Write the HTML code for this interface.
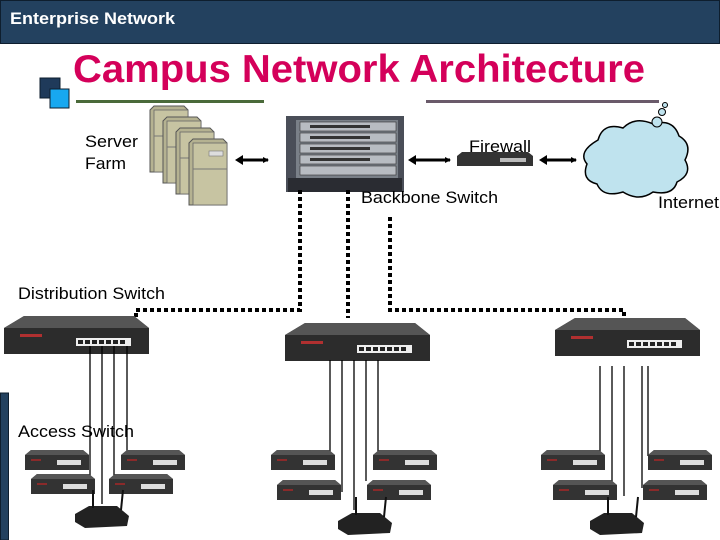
<!DOCTYPE html>
<html><head><meta charset="utf-8"><style>
html,body{margin:0;padding:0;background:#fff;}
svg{display:block;}
text{font-family:"Liberation Sans",Arial,sans-serif;}
</style></head><body>
<svg width="720" height="540" viewBox="0 0 720 540" xmlns="http://www.w3.org/2000/svg">
<defs>
<marker id="ah" markerWidth="6" markerHeight="6" refX="5" refY="3" orient="auto" markerUnits="userSpaceOnUse"><path d="M0,0 L6,3 L0,6 z" fill="#000"/></marker>
<g id="srv">
<polygon points="0,4 4,0 34,0 38,4 38,66 0,66" fill="#b5b291" stroke="#555" stroke-width="1"/>
<rect x="4" y="4" width="34" height="62" fill="#c7c4a2" stroke="#666" stroke-width="0.8"/>
<line x1="4" y1="30" x2="38" y2="30" stroke="#777"/>
<rect x="20" y="12" width="14" height="5" fill="#ddd" stroke="#777" stroke-width="0.6"/>
</g>
<g id="dsw">
<polygon points="0,12 20,0 130,0 145,12 145,38 0,38" fill="#3a3a3a"/>
<polygon points="0,12 20,0 130,0 145,12" fill="#555"/>
<rect x="0" y="12" width="145" height="26" fill="#2c2c2c"/>
<rect x="16" y="18" width="22" height="3" fill="#b03030"/>
<rect x="72" y="22" width="55" height="8" fill="#eee"/>
<g fill="#222"><rect x="74" y="24" width="5" height="4"/><rect x="81" y="24" width="5" height="4"/><rect x="88" y="24" width="5" height="4"/><rect x="95" y="24" width="5" height="4"/><rect x="102" y="24" width="5" height="4"/><rect x="109" y="24" width="5" height="4"/><rect x="116" y="24" width="5" height="4"/></g>
</g>
<g id="asw">
<polygon points="0,5 6,0 58,0 64,5 64,20 0,20" fill="#333"/>
<polygon points="0,5 6,0 58,0 64,5" fill="#555"/>
<rect x="32" y="10" width="24" height="5" fill="#ddd"/>
<rect x="6" y="9" width="10" height="2" fill="#8a2a2a"/>
</g>
<g id="rtr">
<polygon points="0,14 14,6 42,6 54,16 52,26 10,28 0,22" fill="#222"/>
<line x1="18" y1="8" x2="18" y2="-10" stroke="#111" stroke-width="2"/>
<line x1="46" y1="10" x2="48" y2="-10" stroke="#111" stroke-width="2"/>
</g>
</defs>

<rect x="0.5" y="0.5" width="719" height="43" fill="#23415f" stroke="#0e1e2e"/>
<text x="10" y="24" font-size="17" font-weight="bold" fill="#fff" textLength="165" lengthAdjust="spacingAndGlyphs">Enterprise Network</text>

<rect x="40" y="78" width="20" height="20" fill="#1f3a5a" stroke="#0e1e2e"/>
<rect x="50" y="89" width="19" height="19" fill="#18a8f0" stroke="#0e1e2e"/>

<text x="73" y="82" font-size="39" font-weight="bold" fill="#d4005a" textLength="572" lengthAdjust="spacingAndGlyphs">Campus Network Architecture</text>
<rect x="76" y="100" width="188" height="3" fill="#4a6a3a"/>
<rect x="426" y="100" width="233" height="3" fill="#6a5a6a"/>

<use href="#srv" x="150" y="106"/>
<use href="#srv" x="163" y="117"/>
<use href="#srv" x="176" y="128"/>
<use href="#srv" x="189" y="139"/>
<text x="85" y="147" font-size="17" fill="#000" textLength="53" lengthAdjust="spacingAndGlyphs">Server</text>
<text x="85" y="169" font-size="17" fill="#000" textLength="41" lengthAdjust="spacingAndGlyphs">Farm</text>

<g stroke="#000" stroke-width="3" marker-end="url(#ah)">
<line x1="240" y1="160" x2="268" y2="160"/>
<line x1="412" y1="160" x2="450" y2="160"/>
<line x1="544" y1="160" x2="576" y2="160"/>
</g>
<g fill="#000">
<path d="M235,160 l8,-5 v10z"/><path d="M408,160 l8,-5 v10z"/><path d="M539,160 l8,-5 v10z"/>
</g>

<rect x="286" y="116" width="118" height="76" fill="#4a4e58"/>
<rect x="296" y="120" width="102" height="62" fill="#7a8088"/>
<g fill="#b8bcc2" stroke="#333" stroke-width="0.6">
<rect x="300" y="122" width="96" height="9"/><rect x="300" y="133" width="96" height="9"/><rect x="300" y="144" width="96" height="9"/><rect x="300" y="155" width="96" height="9"/><rect x="300" y="166" width="96" height="9"/>
</g>
<g fill="#333"><rect x="310" y="125" width="60" height="3"/><rect x="310" y="136" width="60" height="3"/><rect x="310" y="147" width="60" height="3"/><rect x="310" y="158" width="60" height="3"/></g>
<rect x="288" y="178" width="114" height="14" fill="#2a2c32"/>
<text x="361" y="203" font-size="17" fill="#000" textLength="137" lengthAdjust="spacingAndGlyphs">Backbone Switch</text>

<polygon points="457,156 462,152 528,152 533,156 533,166 457,166" fill="#333"/>
<rect x="500" y="158" width="26" height="4" fill="#bbb"/>
<text x="469" y="152" font-size="17" fill="#000" textLength="62" lengthAdjust="spacingAndGlyphs">Firewall</text>

<path d="M598,140 q5,-18 25,-12 q12,-12 30,-4 q20,-6 26,12 q14,8 6,24 q8,14 -8,22 q-4,14 -24,10 q-14,10 -30,0 q-20,6 -26,-8 q-16,-4 -10,-20 q-10,-12 11,-24z" fill="#bfe3ee" stroke="#000" stroke-width="1.5"/>
<circle cx="657" cy="122" r="5" fill="#bfe3ee" stroke="#000"/>
<circle cx="662" cy="112" r="3.5" fill="#bfe3ee" stroke="#000"/>
<circle cx="665" cy="105" r="2.5" fill="#bfe3ee" stroke="#000"/>
<text x="658" y="208" font-size="17" fill="#000" textLength="61" lengthAdjust="spacingAndGlyphs">Internet</text>

<g fill="none" stroke="#000" stroke-width="4" stroke-dasharray="4,3">
<polyline points="300,190 300,310 136,310 136,332"/>
<polyline points="348,190 348,318"/>
<polyline points="390,217 390,310 624,310 624,344"/>
</g>

<use href="#dsw" x="4" y="316"/>
<use href="#dsw" x="285" y="323"/>
<use href="#dsw" x="555" y="318"/>
<text x="18" y="299" font-size="17" fill="#000" textLength="147" lengthAdjust="spacingAndGlyphs">Distribution Switch</text>

<rect x="0.5" y="393" width="8" height="147" fill="#23415f" stroke="#0e1e2e"/>

<g stroke="#000" stroke-width="1.3">
<line x1="90" y1="346" x2="90" y2="478"/><line x1="102" y1="346" x2="102" y2="504"/><line x1="114" y1="346" x2="114" y2="480"/><line x1="127" y1="346" x2="127" y2="451"/>
<line x1="330" y1="360" x2="330" y2="456"/><line x1="342" y1="360" x2="342" y2="492"/><line x1="354" y1="360" x2="354" y2="510"/><line x1="366" y1="360" x2="366" y2="481"/><line x1="378" y1="360" x2="378" y2="456"/>
<line x1="600" y1="366" x2="600" y2="456"/><line x1="612" y1="366" x2="612" y2="488"/><line x1="624" y1="366" x2="624" y2="496"/><line x1="642" y1="366" x2="642" y2="488"/><line x1="648" y1="366" x2="648" y2="456"/>
</g>

<use href="#asw" x="25" y="450"/><use href="#asw" x="31" y="474"/><use href="#asw" x="121" y="450"/><use href="#asw" x="109" y="474"/>
<use href="#asw" x="271" y="450"/><use href="#asw" x="277" y="480"/><use href="#asw" x="373" y="450"/><use href="#asw" x="367" y="480"/>
<use href="#asw" x="541" y="450"/><use href="#asw" x="553" y="480"/><use href="#asw" x="648" y="450"/><use href="#asw" x="643" y="480"/>
<text x="18" y="437" font-size="17" fill="#000" textLength="116" lengthAdjust="spacingAndGlyphs">Access Switch</text>

<use href="#rtr" x="75" y="500"/>
<use href="#rtr" x="338" y="507"/>
<use href="#rtr" x="590" y="507"/>
</svg>
</body></html>
